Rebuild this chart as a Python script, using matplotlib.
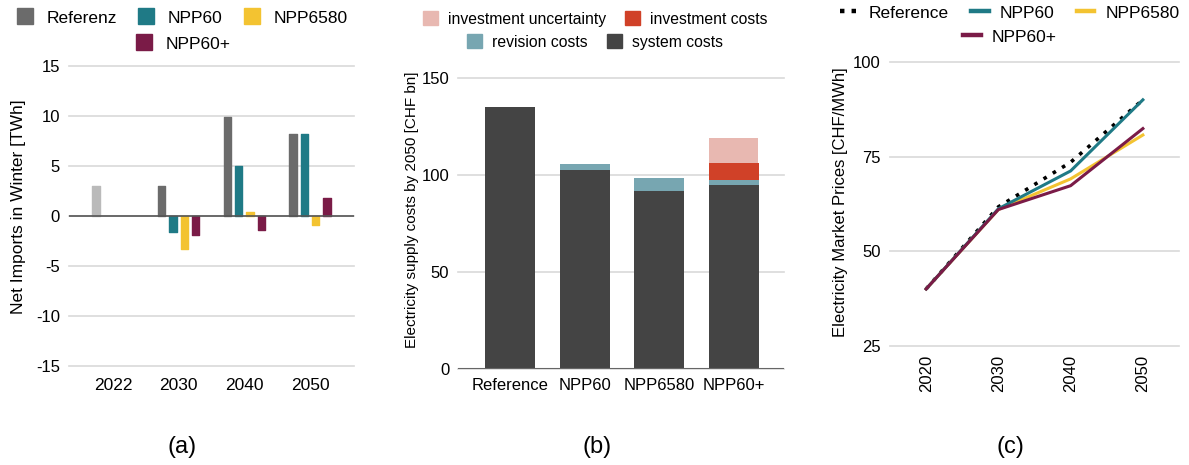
import matplotlib
matplotlib.use('Agg')
import matplotlib.pyplot as plt
from matplotlib.lines import Line2D
from matplotlib.patches import Patch

plt.rcParams['font.family'] = ['Liberation Sans', 'DejaVu Sans']
plt.rcParams['axes.unicode_minus'] = False

# ---------------- data ----------------
# Panel (a): net imports in winter [TWh]
years_a = ['2022', '2030', '2040', '2050']
series_a = ['Referenz', 'NPP60', 'NPP6580', 'NPP60+']
imports_2022 = [3.0]
imports_ref = [3.0, 9.9, 8.2]
imports_npp60 = [-1.6, 5.0, 8.2]
imports_npp6580 = [-3.3, 0.4, -0.9]
imports_npp60p = [-1.9, -1.4, 1.8]
yticks_a = [-15, -10, -5, 0, 5, 10, 15]

# Panel (b): electricity supply costs by 2050 [CHF bn]
scenarios_b = ['Reference', 'NPP60', 'NPP6580', 'NPP60+']
system_costs = [135.0, 102.4, 91.6, 94.7]
revision_costs = [0.0, 3.1, 6.7, 2.6]
investment_costs = [0.0, 0.0, 0.0, 8.7]
investment_uncertainty = [0.0, 0.0, 0.0, 12.9]
yticks_b = [0, 50, 100, 150]

# Panel (c): electricity market prices [CHF/MWh]
years_c = ['2020', '2030', '2040', '2050']
price_ref = [40.0, 61.7, 73.5, 90.0]
price_npp60 = [40.0, 61.2, 71.2, 90.0]
price_npp6580 = [40.0, 61.0, 69.1, 80.7]
price_npp60p = [40.0, 61.0, 67.3, 82.4]
yticks_c = [25, 50, 75, 100]

# ---------------- style ----------------
C_REF = '#6b6b6b'
C_2022 = '#bababa'
C_NPP60 = '#1f7a86'
C_NPP6580 = '#f3c331'
C_NPP60P = '#7a1b47'
C_SYS = '#444444'
C_REV = '#77a6b1'
C_INV = '#d04128'
C_UNC = '#e8b8b1'
GRID = '#d9d9d9'

W, H = 1189, 465
fig = plt.figure(figsize=(W / 100, H / 100), dpi=100)


def box(l, t, r, b):
    return [l / W, 1 - b / H, (r - l) / W, (b - t) / H]


def style_axes(ax):
    for s in ax.spines.values():
        s.set_visible(False)
    ax.yaxis.grid(True, color=GRID, lw=1.2)
    ax.xaxis.grid(False)
    ax.set_axisbelow(True)
    for gl in ax.get_ygridlines():
        gl.set_clip_on(False)


# ---------------- panel (a) ----------------
ax = fig.add_axes(box(69, 66, 354, 366))
bw = 0.11
step = 0.172
ax.bar([0 - 1.5 * step], imports_2022, width=bw, color=C_2022,
       edgecolor=C_2022, lw=1, joinstyle='round', zorder=3)
groups = [1, 2, 3]
for k, (vals, col) in enumerate([(imports_ref, C_REF), (imports_npp60, C_NPP60),
                                 (imports_npp6580, C_NPP6580), (imports_npp60p, C_NPP60P)]):
    xs = [g + (k - 1.5) * step for g in groups]
    ax.bar(xs, vals, width=bw, color=col, edgecolor=col, lw=1,
           joinstyle='round', zorder=3)
ax.axhline(0, color='#555555', lw=1.2, zorder=4)
ax.set_xlim(-0.67, 3.67)
ax.set_ylim(-15, 15)
ax.set_yticks(yticks_a)
ax.set_xticks(range(len(years_a)))
ax.set_xticklabels(years_a)
style_axes(ax)
ax.tick_params(axis='both', length=0)
ax.tick_params(axis='y', pad=6.5, labelsize=12)
ax.tick_params(axis='x', pad=8.5, labelsize=12.5)

fig.text(18.5 / W, 1 - 207 / H, 'Net Imports in Winter [TWh]', rotation=90,
         ha='center', va='center', fontsize=12.5)
fig.text(182 / W, 1 - 447 / H, '(a)', ha='center', va='center', fontsize=17)

h_a = [Line2D([], [], marker='s', ls='', color=c, markersize=12)
       for c in [C_REF, C_NPP60, C_NPP6580, C_NPP60P]]
leg_kw = dict(frameon=False, fontsize=12.5, handlelength=1.0, handletextpad=0.75,
              columnspacing=1.2, loc='center', borderaxespad=0, borderpad=0)
fig.legend(h_a[:3], series_a[:3], ncol=3, bbox_to_anchor=(182 / W, 1 - 18 / H), **leg_kw)
fig.legend(h_a[3:], series_a[3:], ncol=1, bbox_to_anchor=(183 / W, 1 - 44 / H), **leg_kw)

# ---------------- panel (b) ----------------
ax = fig.add_axes(box(457.7, 77.7, 784, 368.7))
xb = range(len(scenarios_b))
bwb = 0.67
ax.bar(xb, system_costs, width=bwb, color=C_SYS, zorder=3)
bottom1 = [s for s in system_costs]
ax.bar(xb, revision_costs, width=bwb, bottom=bottom1, color=C_REV, zorder=3)
bottom2 = [a + b for a, b in zip(bottom1, revision_costs)]
ax.bar(xb, investment_costs, width=bwb, bottom=bottom2, color=C_INV, zorder=3)
bottom3 = [a + b for a, b in zip(bottom2, investment_costs)]
ax.bar(xb, investment_uncertainty, width=bwb * 0.98, bottom=bottom3, color=C_UNC, zorder=3)
ax.axhline(0, color='#666666', lw=1.5, zorder=4)
ax.set_xlim(-0.70, 3.67)
ax.set_ylim(0, 150)
ax.set_yticks(yticks_b)
ax.set_xticks(list(xb))
ax.set_xticklabels(scenarios_b)
style_axes(ax)
ax.tick_params(axis='both', length=0, labelsize=12)
ax.tick_params(axis='y', pad=6)
ax.tick_params(axis='x', pad=7)

fig.text(411.7 / W, 1 - 210 / H, 'Electricity supply costs by 2050 [CHF bn]', rotation=90,
         ha='center', va='center', fontsize=11)
fig.text(597 / W, 1 - 447 / H, '(b)', ha='center', va='center', fontsize=17)

h_b1 = [Patch(color=C_UNC), Patch(color=C_INV)]
h_b2 = [Patch(color=C_REV), Patch(color=C_SYS)]
leg_kw_b = dict(frameon=False, fontsize=11.3, handlelength=0.96, handleheight=0.96,
                handletextpad=0.64, columnspacing=1.2, loc='center',
                borderaxespad=0, borderpad=0)
fig.legend(h_b1, ['investment uncertainty', 'investment costs'], ncol=2,
           bbox_to_anchor=(595 / W, 1 - 19 / H), **leg_kw_b)
fig.legend(h_b2, ['revision costs', 'system costs'], ncol=2,
           bbox_to_anchor=(595 / W, 1 - 42 / H), **leg_kw_b)

# ---------------- panel (c) ----------------
ax = fig.add_axes(box(890, 62, 1179, 345.7))
xc = list(range(len(years_c)))
ax.plot(xc, price_ref, color='black', ls=(0, (1, 2)), lw=2.6, zorder=3)
ax.plot(xc, price_npp6580, color=C_NPP6580, lw=2.2, zorder=4)
ax.plot(xc, price_npp60, color=C_NPP60, lw=2.2, zorder=5)
ax.plot(xc, price_npp60p, color=C_NPP60P, lw=2.2, zorder=6)
ax.set_xlim(-0.5, 3.5)
ax.set_ylim(25, 100)
ax.set_yticks(yticks_c)
ax.set_xticks(xc)
ax.set_xticklabels(years_c, rotation=90)
style_axes(ax)
ax.tick_params(axis='both', length=0, labelsize=12)
ax.tick_params(axis='y', pad=6.5)
ax.tick_params(axis='x', pad=6.5)

fig.text(840 / W, 1 - 201.7 / H, 'Electricity Market Prices [CHF/MWh]', rotation=90,
         ha='center', va='center', fontsize=12)
fig.text(1010 / W, 1 - 447 / H, '(c)', ha='center', va='center', fontsize=17)

h_c = [Line2D([], [], color='black', ls=(0, (1, 1.6)), lw=3.2),
       Line2D([], [], color=C_NPP60, lw=3.2),
       Line2D([], [], color=C_NPP6580, lw=3.2),
       Line2D([], [], color=C_NPP60P, lw=3.2)]
labels_c = ['Reference', 'NPP60', 'NPP6580', 'NPP60+']
leg_kw_c = dict(frameon=False, fontsize=12.5, handlelength=1.0, handletextpad=0.63,
                columnspacing=1.3, loc='center', borderaxespad=0, borderpad=0)
fig.legend(h_c[:3], labels_c[:3], ncol=3, bbox_to_anchor=(1010 / W, 1 - 13 / H), **leg_kw_c)
fig.legend(h_c[3:], labels_c[3:], ncol=1, bbox_to_anchor=(1010 / W, 1 - 37 / H), **leg_kw_c)

fig.savefig('out.png', dpi=100)
